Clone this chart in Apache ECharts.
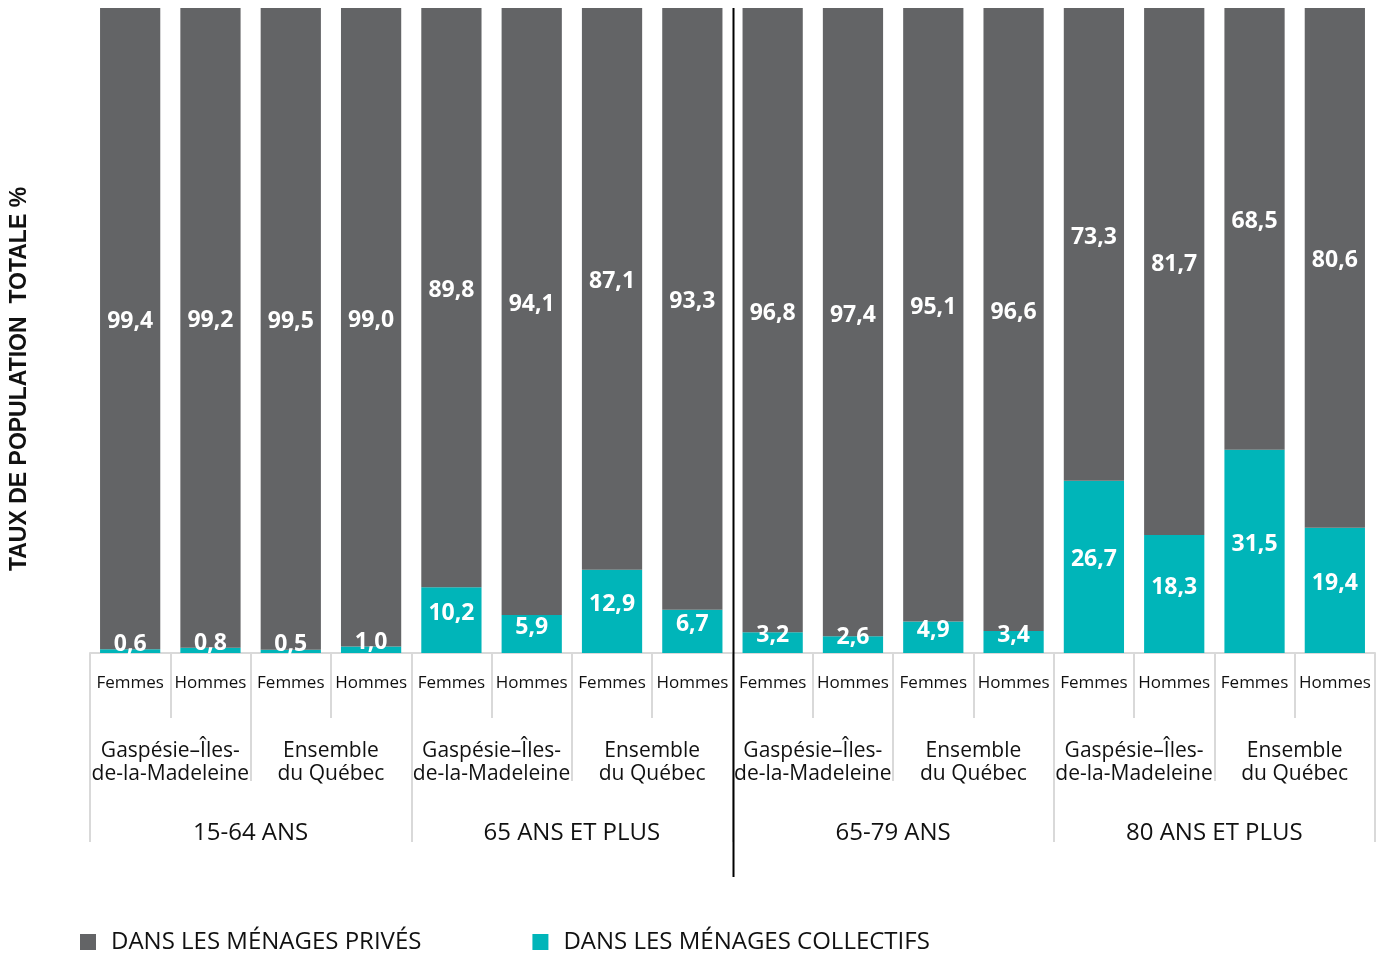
<!DOCTYPE html>
<html>
<head>
<meta charset="utf-8">
<script src="https://cdn.jsdelivr.net/npm/echarts@6/dist/echarts.min.js"></script>
<style>
  html, body { margin: 0; padding: 0; background: #fff; }
  #main { width: 1389px; height: 953px; }
</style>
</head>
<body>
<div id="main"></div>
<script>
const sexes = ['Femmes', 'Hommes', 'Femmes', 'Hommes', 'Femmes', 'Hommes', 'Femmes', 'Hommes',
  'Femmes', 'Hommes', 'Femmes', 'Hommes', 'Femmes', 'Hommes', 'Femmes', 'Hommes'];
const regions = ['Gaspésie–Îles-\nde-la-Madeleine', 'Ensemble\ndu Québec',
  'Gaspésie–Îles-\nde-la-Madeleine', 'Ensemble\ndu Québec',
  'Gaspésie–Îles-\nde-la-Madeleine', 'Ensemble\ndu Québec',
  'Gaspésie–Îles-\nde-la-Madeleine', 'Ensemble\ndu Québec'];
const ageGroups = ['15-64 ANS', '65 ANS ET PLUS', '65-79 ANS', '80 ANS ET PLUS'];

const collectifs = [0.6, 0.8, 0.5, 1.0, 10.2, 5.9, 12.9, 6.7, 3.2, 2.6, 4.9, 3.4, 26.7, 18.3, 31.5, 19.4];
const prives = [99.4, 99.2, 99.5, 99.0, 89.8, 94.1, 87.1, 93.3, 96.8, 97.4, 95.1, 96.6, 73.3, 81.7, 68.5, 80.6];

const GRAY = '#636466';
const TEAL = '#00b5b9';
const LINE = '#d9d9d9';
const FONT = '"Open Sans", sans-serif';

const chart = echarts.init(document.getElementById('main'));

const fmt = p => p.value.toFixed(1).replace('.', ',');
const barLabel = {
  show: true,
  position: 'inside',
  offset: [0, -7],
  color: '#fff',
  fontFamily: FONT,
  fontWeight: 'bold',
  fontSize: 23,
  formatter: fmt
};

function levelAxis(data, tickLen, margin, fontSize, extra) {
  return Object.assign({
    type: 'category',
    data: data,
    position: 'bottom',
    gridIndex: 0,
    axisLine: { show: false },
    axisTick: { show: true, interval: 0, length: tickLen, lineStyle: { color: LINE, width: 2 } },
    axisLabel: { interval: 0, margin: margin, color: '#111', fontFamily: FONT, fontSize: fontSize }
  }, extra || {});
}

const option = {
  animation: false,
  grid: { left: 90, right: 14, top: 8, bottom: 300, containLabel: false },
  legend: {
    left: 80,
    top: 930,
    padding: 0,
    itemWidth: 16,
    itemHeight: 16,
    itemGap: 111,
    icon: 'rect',
    textStyle: { fontFamily: FONT, fontSize: 24, color: '#111', padding: [0, 0, 0, 10] },
    data: ['DANS LES MÉNAGES PRIVÉS', 'DANS LES MÉNAGES COLLECTIFS']
  },
  xAxis: [
    levelAxis(sexes, 65, 22, 17, {
      axisLine: { show: true, lineStyle: { color: LINE, width: 2 } }
    }),
    levelAxis(regions, 128, 87, 21, {
      axisLabel: { interval: 0, margin: 87, color: '#111', fontFamily: FONT, fontSize: 21, lineHeight: 23 }
    }),
    levelAxis(ageGroups, 189, 168, 24)
  ],
  yAxis: { type: 'value', min: 0, max: 100, show: false },
  series: [
    {
      name: 'DANS LES MÉNAGES COLLECTIFS',
      type: 'bar',
      stack: 'total',
      data: collectifs,
      xAxisIndex: 0,
      barCategoryGap: '25%',
      itemStyle: { color: TEAL },
      label: barLabel
    },
    {
      name: 'DANS LES MÉNAGES PRIVÉS',
      type: 'bar',
      stack: 'total',
      data: prives,
      xAxisIndex: 0,
      barCategoryGap: '25%',
      itemStyle: { color: GRAY },
      label: barLabel
    }
  ]
};

chart.setOption(option);

// vertical divider between the two halves
const xa = chart.convertToPixel({ xAxisIndex: 0 }, 7);
const xb = chart.convertToPixel({ xAxisIndex: 0 }, 8);
const yTop = chart.convertToPixel({ yAxisIndex: 0 }, 100);
const xm = Math.round((xa + xb) / 2) + 0.5;

chart.setOption({
  graphic: [
    {
      type: 'line',
      shape: { x1: xm, y1: yTop, x2: xm, y2: 877 },
      style: { stroke: '#000', lineWidth: 2 },
      z: 100
    },
    {
      type: 'text',
      x: 20,
      y: 379,
      rotation: Math.PI / 2,
      style: {
        text: 'TAUX DE POPULATION  TOTALE %',
        fill: '#111',
        font: 'bold 23px "Liberation Sans", Arial, sans-serif',
        align: 'center',
        verticalAlign: 'middle'
      }
    }
  ]
});
</script>
</body>
</html>
